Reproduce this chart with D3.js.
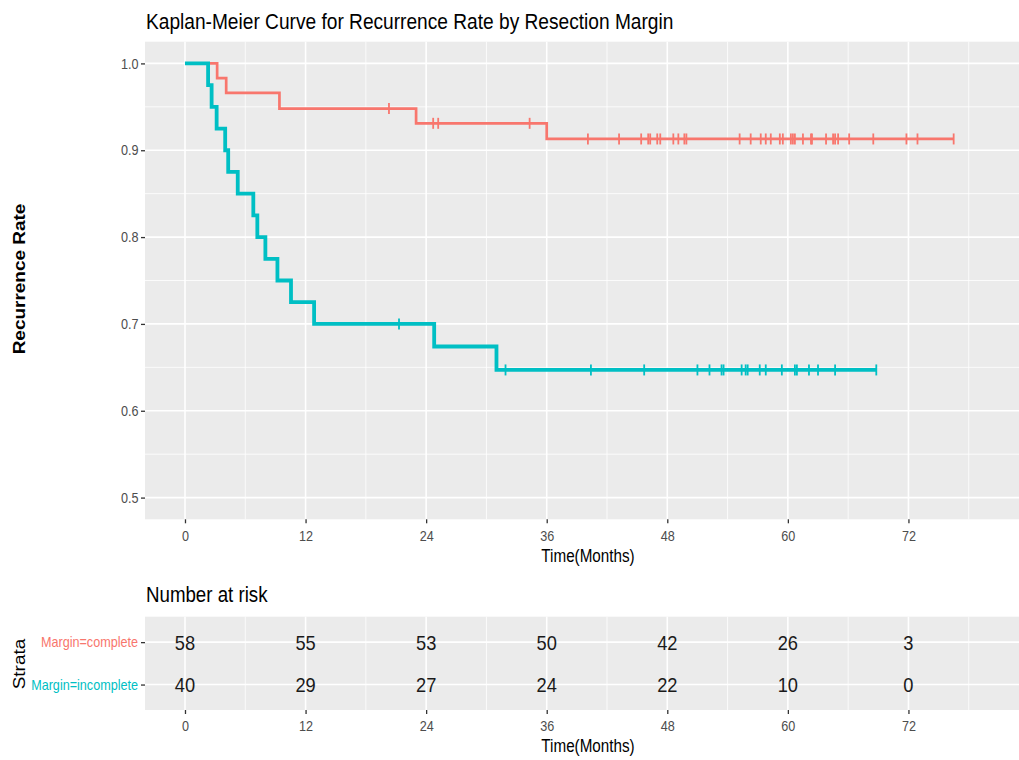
<!DOCTYPE html>
<html>
<head>
<meta charset="utf-8">
<script src="https://cdn.jsdelivr.net/npm/d3@7"></script>
<style>
  body { margin: 0; background: #fff; }
  svg text { font-family: "Liberation Sans", Arial, Helvetica, sans-serif; }
</style>
</head>
<body>
<div id="chart"></div>
<script>
// survival steps (time in months, rate)
const completeTimes = [0, 3.2, 4.1, 9.4, 23.0, 36.0];
const completeSurv = [1.0, 0.983, 0.966, 0.948, 0.931, 0.913];
const completeLast = 76.5;
const completeCensor = [20.3, 24.7, 25.2, 34.3, 40.1, 43.2, 45.4, 46.1, 46.3, 47.0, 47.3, 48.6, 49.1, 49.7, 49.9,
  55.2, 56.3, 57.3, 57.8, 58.3, 59.2, 59.5, 60.3, 60.5, 60.7, 61.5, 62.3, 62.4, 63.8, 64.5, 64.7, 65.0, 66.1,
  68.5, 71.8, 72.9, 76.5];

const incompleteTimes = [0, 2.3, 2.65, 3.15, 4.0, 4.3, 5.25, 6.8, 7.2, 8.0, 9.2, 10.55, 12.85, 24.8, 31.0];
const incompleteSurv = [1.0, 0.975, 0.95, 0.925, 0.90, 0.875, 0.85, 0.825, 0.80, 0.775, 0.75, 0.725, 0.70, 0.674, 0.647];
const incompleteLast = 68.8;
const incompleteCensor = [21.3, 31.9, 40.4, 45.7, 51.0, 52.2, 53.4, 53.6, 55.4, 55.8, 56.0, 57.2, 57.8, 59.4,
  60.7, 60.9, 62.1, 63.0, 64.7, 68.8];

// number at risk table
const strata = ["Margin=complete", "Margin=incomplete"];
const riskTimes = [0, 12, 24, 36, 48, 60, 72];
const riskComplete = [58, 55, 53, 50, 42, 26, 3];
const riskIncomplete = [40, 29, 27, 24, 22, 10, 0];

// ticks
const xTicks = [0, 12, 24, 36, 48, 60, 72];
const xMinor = [6, 18, 30, 42, 54, 66, 78];
const yTicks = [0.5, 0.6, 0.7, 0.8, 0.9, 1.0];
const yMinor = [0.55, 0.65, 0.75, 0.85, 0.95];

const colors = ["#F8766D", "#00BFC4"];

const W = 1019, H = 760;
const SX = 0.87; // the picture is a bit squeezed sideways, so is the text

const svg = d3.select("#chart").append("svg")
    .attr("width", W)
    .attr("height", H);

const x = d3.scaleLinear().domain([-3.98, 83.6]).range([145, 1025]);
const y = d3.scaleLinear().domain([0.475, 1.025]).range([519.3, 41.7]);
const yT = d3.scalePoint().domain(strata).range([616.7, 710]).padding(0.6);

function addText(g, tx, ty, str, size, opts = {}) {
  const rot = opts.rotate ? " rotate(-90) scale(" + (1 / SX) + ",1)" : " scale(" + SX + ",1)";
  return g.append("text")
    .attr("transform", "translate(" + tx + "," + ty + ")" + rot)
    .attr("text-anchor", opts.anchor || "start")
    .attr("dominant-baseline", opts.baseline || "auto")
    .style("font-size", size + "px")
    .style("font-weight", opts.bold ? "bold" : "normal")
    .attr("fill", opts.fill || "#000")
    .text(str);
}

function styleAxis(g, textX) {
  g.select(".domain").remove();
  g.selectAll(".tick line").attr("stroke", "#333").attr("stroke-width", 1.3);
  g.selectAll(".tick text")
    .attr("fill", "#4D4D4D")
    .style("font-size", "14.5px")
    .attr("transform", "scale(" + SX + ",1)");
  if (textX !== undefined) g.selectAll(".tick text").attr("x", textX / SX);
}

// ---------- main panel ----------
const [px0, px1] = x.range();
const [py1, py0] = y.range();

svg.append("rect")
  .attr("x", px0).attr("y", py0)
  .attr("width", px1 - px0).attr("height", py1 - py0)
  .attr("fill", "#EBEBEB");

const grid = svg.append("g");
grid.selectAll(".vminor").data(xMinor).join("line")
  .attr("x1", d => x(d)).attr("x2", d => x(d))
  .attr("y1", py0).attr("y2", py1)
  .attr("stroke", "#fff").attr("stroke-width", 0.8);
grid.selectAll(".hminor").data(yMinor).join("line")
  .attr("x1", px0).attr("x2", px1)
  .attr("y1", d => y(d)).attr("y2", d => y(d))
  .attr("stroke", "#fff").attr("stroke-width", 0.8);
grid.selectAll(".vmajor").data(xTicks).join("line")
  .attr("x1", d => x(d)).attr("x2", d => x(d))
  .attr("y1", py0).attr("y2", py1)
  .attr("stroke", "#fff").attr("stroke-width", 1.6);
grid.selectAll(".hmajor").data(yTicks).join("line")
  .attr("x1", px0).attr("x2", px1)
  .attr("y1", d => y(d)).attr("y2", d => y(d))
  .attr("stroke", "#fff").attr("stroke-width", 1.6);

const xAxis = svg.append("g")
  .attr("transform", "translate(0," + py1 + ")")
  .call(d3.axisBottom(x).tickValues(xTicks).tickSize(4).tickPadding(7));
styleAxis(xAxis);

const yAxis = svg.append("g")
  .attr("transform", "translate(" + px0 + ",0)")
  .call(d3.axisLeft(y).tickValues(yTicks).tickFormat(d3.format(".1f")).tickSize(4));
styleAxis(yAxis, -6.5);

// curves
const line = d3.line()
  .x(d => x(d[0]))
  .y(d => y(d[1]))
  .curve(d3.curveStepAfter);

function drawCurve(times, surv, last, censor, color, width) {
  const pts = times.map((t, i) => [t, surv[i]]);
  pts.push([last, surv[surv.length - 1]]);
  svg.append("path")
    .datum(pts)
    .attr("d", line)
    .attr("fill", "none")
    .attr("stroke", color)
    .attr("stroke-width", width);
  const survAt = t => surv[d3.bisectRight(times, t) - 1];
  svg.append("g").selectAll("line").data(censor).join("line")
    .attr("x1", d => x(d)).attr("x2", d => x(d))
    .attr("y1", d => y(survAt(d)) - 5.5).attr("y2", d => y(survAt(d)) + 5.5)
    .attr("stroke", color)
    .attr("stroke-width", 1.8);
}

drawCurve(completeTimes, completeSurv, completeLast, completeCensor, colors[0], 2.7);
drawCurve(incompleteTimes, incompleteSurv, incompleteLast, incompleteCensor, colors[1], 3.8);

// titles
addText(svg, 146, 29, "Kaplan-Meier Curve for Recurrence Rate by Resection Margin", 22);
addText(svg, 19, 279, "Recurrence Rate", 16.5, { rotate: true, anchor: "middle", baseline: "central", bold: true });
addText(svg, 588, 562, "Time(Months)", 17.5, { anchor: "middle" });

// ---------- number at risk ----------
addText(svg, 146, 601.5, "Number at risk", 21.5);

const [ty0, ty1] = yT.range();
svg.append("rect")
  .attr("x", px0).attr("y", ty0)
  .attr("width", px1 - px0).attr("height", ty1 - ty0)
  .attr("fill", "#EBEBEB");

const tgrid = svg.append("g");
tgrid.selectAll(".vminor").data(xMinor).join("line")
  .attr("x1", d => x(d)).attr("x2", d => x(d))
  .attr("y1", ty0).attr("y2", ty1)
  .attr("stroke", "#fff").attr("stroke-width", 0.8);
tgrid.selectAll(".vmajor").data(xTicks).join("line")
  .attr("x1", d => x(d)).attr("x2", d => x(d))
  .attr("y1", ty0).attr("y2", ty1)
  .attr("stroke", "#fff").attr("stroke-width", 1.6);
tgrid.selectAll(".hmajor").data(strata).join("line")
  .attr("x1", px0).attr("x2", px1)
  .attr("y1", d => yT(d)).attr("y2", d => yT(d))
  .attr("stroke", "#fff").attr("stroke-width", 1.6);

const riskRows = [riskComplete, riskIncomplete];
strata.forEach((s, i) => {
  riskRows[i].forEach((n, j) => {
    addText(svg, x(riskTimes[j]), yT(s) + 7.5, n, 21, { anchor: "middle", fill: "#1A1A1A" });
  });
});

const tyAxis = svg.append("g")
  .attr("transform", "translate(" + px0 + ",0)")
  .call(d3.axisLeft(yT).tickSize(4));
styleAxis(tyAxis, -7);
tyAxis.selectAll(".tick text")
  .style("font-size", "14.5px")
  .attr("fill", (d, i) => colors[i]);

const txAxis = svg.append("g")
  .attr("transform", "translate(0," + ty1 + ")")
  .call(d3.axisBottom(x).tickValues(xTicks).tickSize(4).tickPadding(7));
styleAxis(txAxis);

addText(svg, 588, 752, "Time(Months)", 17.5, { anchor: "middle" });
addText(svg, 19, 664, "Strata", 16.5, { rotate: true, anchor: "middle", baseline: "central" });
</script>
</body>
</html>
